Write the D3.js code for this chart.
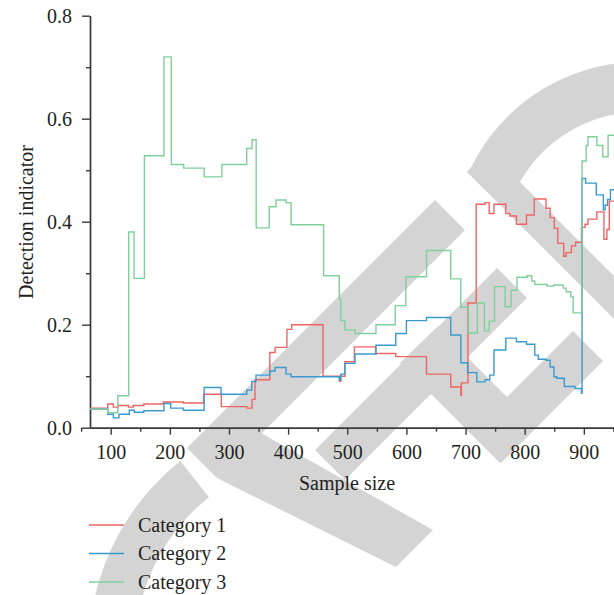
<!DOCTYPE html>
<html>
<head>
<meta charset="utf-8">
<script src="https://cdn.jsdelivr.net/npm/d3@7"></script>
<style>
body{margin:0;background:#fff}
svg text{font-family:"Liberation Serif","Times New Roman",serif;fill:#231f20}
</style>
</head>
<body>
<div id="chart"></div>
<script>
var categories = ['Category 1', 'Category 2', 'Category 3']
var colors = ['#ef6464', '#3a9ad0', '#7fcf9b']

// step starts (sample size) and values
var redX = [65, 95, 104.5, 113, 130, 138, 156, 189, 223, 257, 287, 330, 339, 344, 369, 378, 398, 406, 459, 487, 489, 496, 512, 548, 582, 634, 675, 692, 693, 704, 718, 733, 740, 748, 768, 775, 786, 803, 816, 836, 843, 850, 856, 866, 870, 879, 886, 896, 902, 907, 922, 934, 939, 943]
var redY = [0.038, 0.046, 0.040, 0.043, 0.040, 0.043, 0.046, 0.050, 0.048, 0.065, 0.041, 0.038, 0.055, 0.093, 0.146, 0.156, 0.191, 0.200, 0.100, 0.090, 0.100, 0.128, 0.157, 0.144, 0.138, 0.104, 0.079, 0.063, 0.087, 0.242, 0.434, 0.437, 0.416, 0.434, 0.416, 0.411, 0.395, 0.413, 0.444, 0.426, 0.408, 0.387, 0.358, 0.333, 0.340, 0.353, 0.360, 0.389, 0.395, 0.405, 0.419, 0.366, 0.385, 0.440]

var blueX = [65, 95, 104.5, 114, 131.5, 140, 156, 190, 201.5, 223, 258, 286.5, 330, 338.5, 345.7, 369, 378, 396.5, 405, 486.5, 489, 496, 513, 548.5, 582, 600, 634, 675, 692, 703.5, 719, 733, 741, 748, 768, 786, 803, 817, 823, 836, 843, 849.5, 854, 867, 885, 896, 897, 903, 921, 933, 936, 940, 945]
var blueY = [0.036, 0.026, 0.019, 0.026, 0.034, 0.030, 0.033, 0.047, 0.038, 0.034, 0.078, 0.065, 0.073, 0.090, 0.102, 0.110, 0.117, 0.104, 0.099, 0.093, 0.104, 0.125, 0.143, 0.160, 0.183, 0.208, 0.214, 0.180, 0.126, 0.107, 0.089, 0.093, 0.102, 0.151, 0.174, 0.167, 0.162, 0.141, 0.133, 0.131, 0.118, 0.099, 0.096, 0.080, 0.076, 0.067, 0.484, 0.475, 0.452, 0.423, 0.432, 0.443, 0.462]

var greenX = [65, 95, 112, 130.5, 139.5, 157, 190, 202.5, 223.5, 258, 288, 330, 339, 346, 368, 379.5, 396.5, 405, 460, 486.5, 489, 496, 513, 548.5, 581, 599, 634, 675, 692, 704.5, 720, 732, 740, 749, 767, 777, 787, 804, 812, 817, 838, 849, 865, 870, 878, 882, 897, 904, 907, 922, 932, 941]
var greenY = [0.036, 0.029, 0.062, 0.380, 0.290, 0.528, 0.720, 0.511, 0.504, 0.487, 0.511, 0.542, 0.559, 0.388, 0.429, 0.442, 0.437, 0.394, 0.295, 0.250, 0.208, 0.190, 0.183, 0.200, 0.237, 0.293, 0.344, 0.289, 0.234, 0.184, 0.242, 0.188, 0.207, 0.274, 0.235, 0.267, 0.292, 0.295, 0.285, 0.278, 0.275, 0.277, 0.271, 0.264, 0.254, 0.223, 0.518, 0.548, 0.565, 0.548, 0.526, 0.568]

var xTicks = d3.range(100, 901, 100)
var xMinor = d3.range(50, 951, 100)
var yTicks = [0, 0.2, 0.4, 0.6, 0.8]
var yMinor = [0.1, 0.3, 0.5, 0.7]

var W = 614, H = 595
var xMax = 951

var svg = d3.select('#chart').append('svg')
  .attr('width', W).attr('height', H)

var x = d3.scaleLinear().domain([65, xMax]).range([90, 614])
var y = d3.scaleLinear().domain([0, 0.8]).range([427.7, 15.7])

// grey watermark shapes in the background
var wm = svg.append('g').attr('fill', '#d4d4d4')
var polys = [
  [[466.7, 171.7], [488, 150], [700, 362], [700, 405]],
  [[435, 200], [465, 230], [217, 478], [187, 448]],
  [[497, 268], [527, 298], [345, 480], [315, 450]],
  [[437, 327], [507, 397], [573, 331], [603, 361], [500.5, 463.5], [400, 363]],
  [[261, 433], [433, 530], [396, 567], [217, 478]]
]
wm.selectAll('path.poly').data(polys).join('path')
  .attr('class', 'poly')
  .attr('d', d => d3.line()(d) + 'Z')
wm.append('path')
  .attr('transform', 'translate(640,250)')
  .attr('d', d3.arc()({innerRadius: 138, outerRadius: 188, startAngle: -1.15, endAngle: 0.8}))
wm.append('path')
  .attr('transform', 'translate(330,650)')
  .attr('d', d3.arc()({innerRadius: 195, outerRadius: 241, startAngle: -1.9, endAngle: -0.67}))

// axes
function styleAxis(g){
  g.selectAll('path, line').attr('stroke', '#3a3a3a').attr('stroke-width', 1.4)
  g.selectAll('text').attr('font-size', 20).attr('fill', '#231f20')
    .attr('font-family', '"Liberation Serif", serif')
}

svg.append('g')
  .attr('transform', 'translate(0,' + y(0) + ')')
  .call(d3.axisBottom(x).tickValues(xMinor).tickSize(4).tickSizeOuter(0).tickFormat(''))
  .call(styleAxis)
svg.append('g')
  .attr('transform', 'translate(0,' + y(0) + ')')
  .call(d3.axisBottom(x).tickValues(xTicks).tickSize(7).tickSizeOuter(0).tickPadding(10).tickFormat(d3.format('d')))
  .call(styleAxis)

svg.append('g')
  .attr('transform', 'translate(' + x(65) + ',0)')
  .call(d3.axisLeft(y).tickValues(yMinor).tickSize(4).tickSizeOuter(0).tickFormat(''))
  .call(styleAxis)
svg.append('g')
  .attr('transform', 'translate(' + x(65) + ',0)')
  .call(d3.axisLeft(y).tickValues(yTicks).tickSize(8).tickSizeOuter(0).tickPadding(10).tickFormat(d3.format('.1f')))
  .call(styleAxis)

svg.append('text')
  .attr('transform', 'translate(33,222) rotate(-90)')
  .attr('text-anchor', 'middle')
  .attr('font-size', 20)
  .text('Detection indicator')

svg.append('text')
  .attr('x', 347).attr('y', 490)
  .attr('text-anchor', 'middle')
  .attr('font-size', 20)
  .text('Sample size')

// step lines
svg.append('clipPath').attr('id', 'clip')
  .append('rect').attr('x', 90).attr('y', 0).attr('width', W - 90).attr('height', y(0))

var series = [[redX, redY], [blueX, blueY], [greenX, greenY]].map(([xs, ys], i) => {
  var pts = xs.map((v, j) => [v, ys[j]])
  pts.push([xMax, ys[ys.length - 1]])
  return {name: categories[i], color: colors[i], pts}
})

var line = d3.line()
  .x(d => x(d[0]))
  .y(d => y(d[1]))
  .curve(d3.curveStepAfter)

svg.append('g').attr('clip-path', 'url(#clip)')
  .selectAll('path').data(series).join('path')
  .attr('d', d => line(d.pts))
  .attr('fill', 'none')
  .attr('stroke', d => d.color)
  .attr('stroke-width', 1.4)

// legend
var leg = svg.selectAll('g.leg').data(series).join('g')
  .attr('class', 'leg')
  .attr('transform', (d, i) => 'translate(0,' + (525 + i*28.5) + ')')
leg.append('line')
  .attr('x1', 89).attr('x2', 124)
  .attr('stroke', d => d.color).attr('stroke-width', 1.4)
leg.append('text')
  .attr('x', 138).attr('y', 6.5)
  .attr('font-size', 20)
  .text(d => d.name)
</script>
</body>
</html>
